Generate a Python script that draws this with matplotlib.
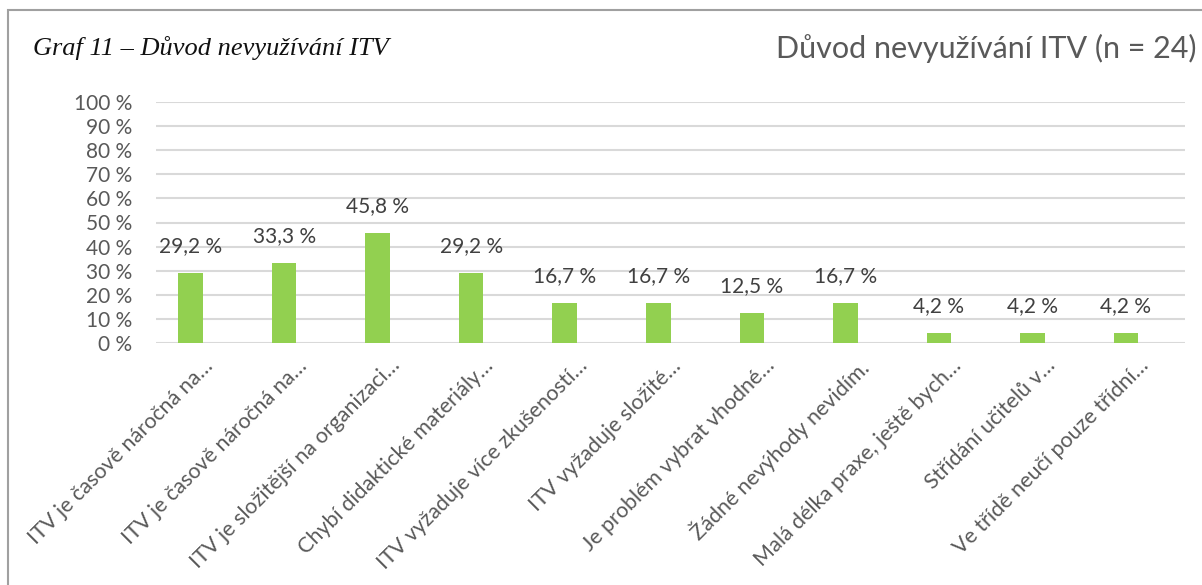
import matplotlib
matplotlib.use('Agg')
import matplotlib.pyplot as plt
from matplotlib.patches import Rectangle

labels = ['ITV je časově náročná na…',
          'ITV je časově náročná na…',
          'ITV je složitější na organizaci…',
          'Chybí didaktické materiály…',
          'ITV vyžaduje více zkušeností…',
          'ITV vyžaduje složité…',
          'Je problém vybrat vhodné…',
          'Žádné nevýhody nevidím.',
          'Malá délka praxe, ještě bych…',
          'Střídání učitelů v…',
          'Ve třídě neučí pouze třídní…']
values = [29.2, 33.3, 45.8, 29.2, 16.7, 16.7, 12.5, 16.7, 4.2, 4.2, 4.2]

W, H = 1202, 585
fig = plt.figure(figsize=(W / 100, H / 100), dpi=100)
plt.rcParams['font.family'] = ['Lato', 'DejaVu Sans']

# outer frame of the chart object (runs off the right and bottom edges)
fig.patches.append(Rectangle((8 / W, -0.1), 1.2, 1 - 10 / H + 0.1,
                             transform=fig.transFigure, fill=False,
                             edgecolor='#a0a0a0', linewidth=1.5))

ax = fig.add_axes([156 / W, 1 - 343 / H, (1185 - 156) / W, (343 - 102) / H])
x = list(range(len(values)))
bw = 0.262
bars = ax.bar([i - bw / 2 for i in x], values, width=bw, color='#92D050', zorder=3)

ax.set_xlim(-0.5, len(values) - 0.5)
ax.set_ylim(0, 100)
ax.set_yticks(range(0, 101, 10))
ax.set_yticklabels(['%d %%' % v for v in range(0, 101, 10)], fontsize=15)
ax.yaxis.grid(True, color='#d9d9d9', linewidth=1.5, zorder=0)
ax.set_xticks(x)
ax.set_xticklabels(labels, rotation=45, ha='right', rotation_mode='anchor',
                   fontsize=15.5)
ax.tick_params(axis='both', length=0, colors='#595959')
ax.tick_params(axis='y', pad=17)
ax.tick_params(axis='x', pad=9)
for s in ax.spines.values():
    s.set_visible(False)

for b, v in zip(bars, values):
    ax.annotate(('%.1f %%' % v).replace('.', ','),
                (b.get_x() + b.get_width() / 2, v),
                xytext=(0, 12), textcoords='offset points',
                ha='center', va='bottom', fontsize=15, color='#404040')

fig.text(33 / W, 1 - 48 / H, 'Graf 11 – Důvod nevyužívání ITV',
         family='Liberation Serif', style='italic', fontsize=19,
         va='center', ha='left', color='#111111')
fig.text(1197 / W, 1 - 48 / H, 'Důvod nevyužívání ITV (n = 24)',
         fontsize=22, va='center', ha='right', color='#595959')

fig.savefig('out.png', dpi=100)
